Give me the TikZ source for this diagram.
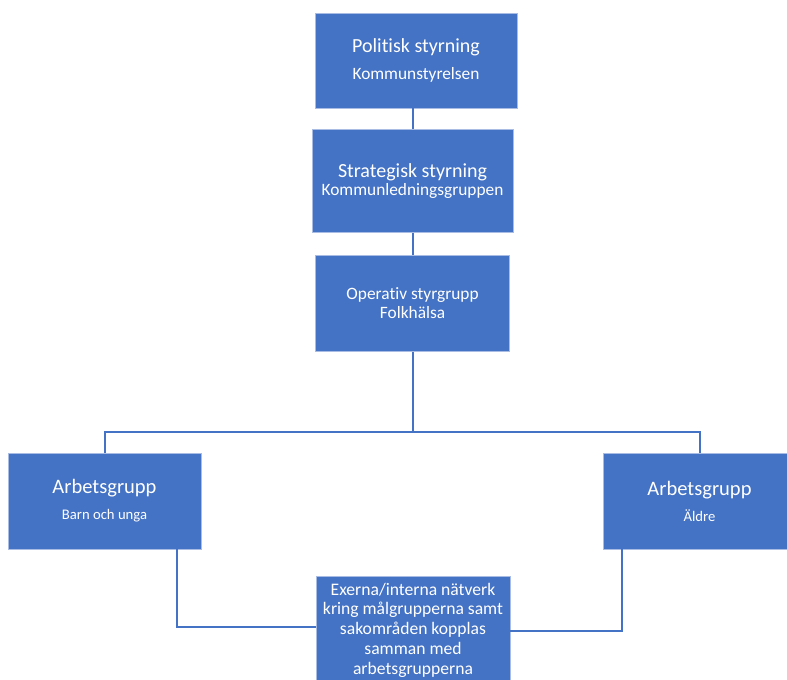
\documentclass[tikz,border=0pt]{standalone}
\usepackage{fontspec}
\setmainfont[Ligatures=CommonOff]{Carlito}
\usepackage{tikz}
\usetikzlibrary{positioning, calc}
\definecolor{boxblue}{HTML}{4472C4}
\definecolor{rimblue}{HTML}{A9BCE3}
\tikzstyle{level} = [rectangle, draw=rimblue, line width=0.6pt, fill=boxblue, text=white, align=center, inner sep=0pt]
\tikzstyle{link} = [draw=boxblue, line width=1.5pt]

\begin{document}
\begin{tikzpicture}[x=0.75pt, y=-0.75pt]
    \clip (0,0) rectangle (787,680);
    \useasboundingbox (0,0) rectangle (787,680);

    % Styrning
    \node[level, minimum width=151.5pt, minimum height=71.25pt, font=\fontsize{13}{20.25}\selectfont] (politisk) at (416,60.5)
        {{\fontsize{15}{20.25}\selectfont Politisk styrning}\\Kommunstyrelsen};
    \node[level, minimum width=150.75pt, minimum height=77.25pt, font=\fontsize{13}{13.5}\selectfont, below=15.75pt of politisk, xshift=-2.6pt] (strategisk)
        {{\fontsize{15}{13.5}\selectfont Strategisk styrning}\\Kommunledningsgruppen};
    \node[level, minimum width=145.5pt, minimum height=72pt, font=\fontsize{13}{14.25}\selectfont, below=16.5pt of strategisk] (operativ)
        {Operativ styrgrupp\\Folkhälsa};

    % Arbetsgrupper
    \node[level, minimum width=144.75pt, minimum height=72pt, font=\fontsize{11}{19.5}\selectfont] (barn) at (104.5,501)
        {{\fontsize{15.4}{19.5}\selectfont Arbetsgrupp}\\Barn och unga};
    \node[level, minimum width=144.75pt, minimum height=72pt, font=\fontsize{11}{19.5}\selectfont] (aldre) at (699.5,501)
        {{\fontsize{15.4}{19.5}\selectfont Arbetsgrupp}\\Äldre};

    % Natverk
    \node[level, minimum width=145.5pt, minimum height=81pt, font=\fontsize{13.2}{14.8}\selectfont] (natverk) at (413,630)
        {Exerna/interna nätverk\\kring målgrupperna samt\\sakområden kopplas\\samman med\\arbetsgrupperna};

    % Linjer
    \coordinate (buss) at (412,432);
    \draw[link] (politisk.south -| strategisk.north) -- (strategisk.north);
    \draw[link] (strategisk.south) -- (operativ.north);
    \draw[link] (operativ.south) -- (operativ.south |- buss);
    \draw[link] (barn.north) |- (buss) -| (aldre.north);
    \draw[link] ([xshift=-18pt]barn.south east) |- ([yshift=2.25pt]natverk.west);
    \draw[link] ([xshift=14.25pt]aldre.south west) |- ([yshift=-0.75pt]natverk.east);
\end{tikzpicture}
\end{document}
